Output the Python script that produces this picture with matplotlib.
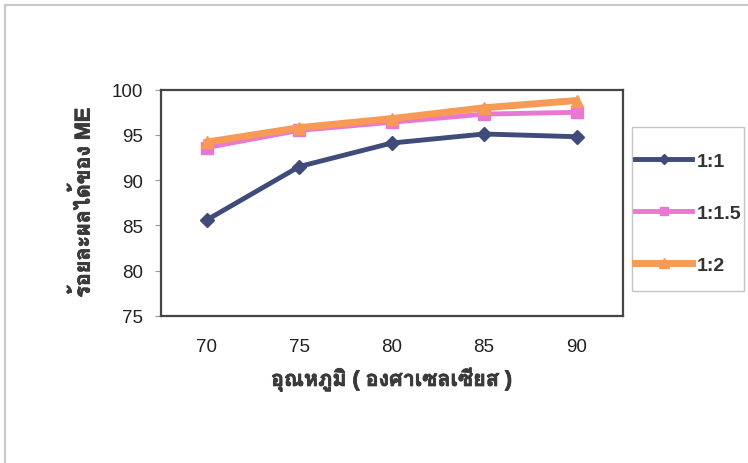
import matplotlib
matplotlib.use("Agg")
import matplotlib.pyplot as plt
import matplotlib.patheffects as pe
from matplotlib import font_manager
from matplotlib.lines import Line2D
from matplotlib.patches import Rectangle

# data
temps = ["70", "75", "80", "85", "90"]
ratio_1_1 = [85.6, 91.5, 94.1, 95.1, 94.8]
ratio_1_15 = [93.6, 95.5, 96.4, 97.3, 97.5]
ratio_1_2 = [94.2, 95.8, 96.8, 98.0, 98.8]
series_names = ["1:1", "1:1.5", "1:2"]

xlabel = "อุณหภูมิ ( องศาเซลเซียส )"
ylabel = "ร้อยละผลได้ของ ME"


def find_thai_font():
    """look for an installed font that has thai glyphs, sans + bold preferred"""
    try:
        from fontTools.ttLib import TTFont
    except ImportError:
        return None
    best, best_score = None, -1
    for f in font_manager.fontManager.ttflist:
        try:
            tt = TTFont(f.fname, fontNumber=0, lazy=True)
            cmap = tt.getBestCmap()
        except Exception:
            continue
        if not (cmap and 0x0E2D in cmap and 0x0E49 in cmap):
            continue
        score = 0
        if "serif" not in f.name.lower() or "sans" in f.name.lower():
            score += 2
        if f.weight in ("bold", 700):
            score += 1
        if score > best_score:
            best, best_score = f.name, score
    return best


thai = find_thai_font()
base = ["Liberation Sans", "DejaVu Sans"]
thai_fam = ["Liberation Sans"] + ([thai] if thai else []) + ["DejaVu Sans"]
plt.rcParams["font.family"] = base

fig = plt.figure(figsize=(7.48, 4.64), dpi=100)
ax = fig.add_axes([160.7 / 748, 1 - 316.7 / 464, 462 / 748, 226 / 464])

x = range(len(temps))
l1, = ax.plot(x, ratio_1_1, color="#3f4b78", lw=3.5, marker="D", ms=7, label=series_names[0])
l2, = ax.plot(x, ratio_1_15, color="#e879d3", lw=3.5, marker="s", ms=8, label=series_names[1])
l3, = ax.plot(x, ratio_1_2, color="#f79a55", lw=5, marker="^", ms=9, label=series_names[2])

ax.set_xlim(-0.5, len(temps) - 0.5)
ax.set_ylim(75, 100)
ax.set_yticks([75, 80, 85, 90, 95, 100])
ax.set_xticks(list(x))
ax.set_xticklabels(temps)
ax.tick_params(axis="x", length=0, pad=16, labelsize=13.5, labelcolor="#222222")
ax.tick_params(axis="y", length=4, color="#999999", pad=9, labelsize=13.5,
               labelcolor="#222222")
for s in ax.spines.values():
    s.set_color("#454545")
    s.set_linewidth(1.6)

# thai font has no bold face here, so thicken the glyphs with a stroke
bold_fx = [pe.withStroke(linewidth=0.6, foreground="#3a3a3a")]
xl = ax.set_xlabel(xlabel, family=thai_fam, fontweight="bold", fontsize=15.5,
                   labelpad=9, color="#3a3a3a")
yl = ax.set_ylabel(ylabel, family=thai_fam, fontweight="bold", fontsize=15.5,
                   labelpad=12, color="#3a3a3a")
xl.set_path_effects(bold_fx)
yl.set_path_effects(bold_fx)

# legend frame drawn separately so the spacing inside can be set freely
fig.add_artist(Rectangle((631.7 / 748, 1 - 292 / 464), 112 / 748, 164 / 464,
                         transform=fig.transFigure, fill=False,
                         edgecolor="#c4c4c4", lw=1.0))
leg = fig.legend(handles=[l1, l2, l3], loc="upper left",
                 bbox_to_anchor=(635 / 748, 1 - 153 / 464),
                 prop={"weight": "bold", "size": 14}, labelspacing=1.78,
                 handlelength=2.95, handletextpad=0.25, borderpad=0,
                 borderaxespad=0, markerscale=0.75, frameon=False,
                 labelcolor="#333333")

# faint outer frame of the chart area (left and top edges)
fig.add_artist(Line2D([5 / 748, 5 / 748], [0, 1 - 6 / 464], color="#c8c8c8", lw=1.5))
fig.add_artist(Line2D([5 / 748, 1], [1 - 6 / 464, 1 - 6 / 464], color="#c8c8c8", lw=1.5))

fig.savefig("out.png", dpi=100)
